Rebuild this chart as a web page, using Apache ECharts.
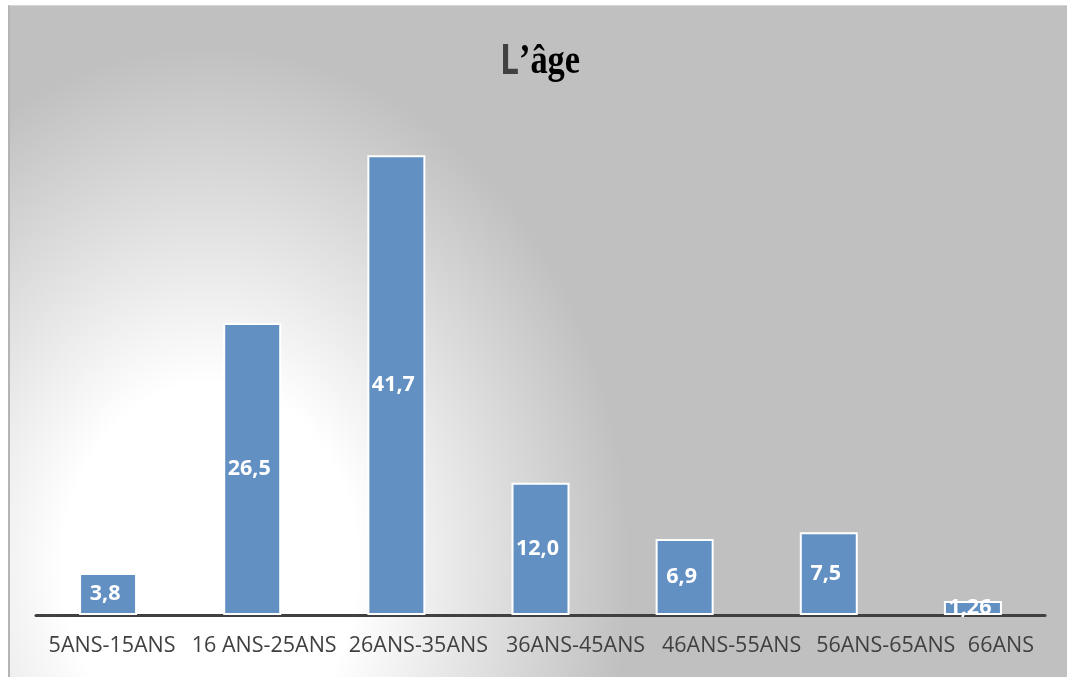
<!DOCTYPE html>
<html>
<head>
<meta charset="utf-8">
<title>L’âge</title>
<script src="https://cdn.jsdelivr.net/npm/echarts@6/dist/echarts.min.js"></script>
<style>
  html, body { margin: 0; padding: 0; background: #ffffff; }
  #chart {
    position: absolute;
    left: 8px; top: 5px;
    width: 1059px; height: 672px;
    box-sizing: border-box;
    border-left: 2px solid #b4b4b4;
    border-top: 1px solid #d6d6d6;
    background: radial-gradient(ellipse 420px 520px at 200px 560px,
      #ffffff 0%, #ffffff 35%, #c0c0c0 100%);
  }
</style>
</head>
<body>
<div id="chart"></div>
<script>
// Age groups and their share (%)
const categories = ['5ANS-15ANS', '16 ANS-25ANS', '26ANS-35ANS', '36ANS-45ANS', '46ANS-55ANS', '56ANS-65ANS', '66ANS'];
const values = [3.8, 26.5, 41.7, 12.0, 6.9, 7.5, 1.26];
const decimals = [1, 1, 1, 1, 1, 1, 2];

// Horizontal nudge (px) of each category label, so the long labels sit side by side
const labelShift = [4, 12, 22, 35, 47, 57, 28];

const axisData = categories.map((name, i) => ({
  value: name,
  textStyle: { padding: [0, 0, 0, labelShift[i] * 2] }
}));

const chart = echarts.init(document.getElementById('chart'), null, { renderer: 'canvas' });

chart.setOption({
  backgroundColor: 'transparent',
  animation: false,
  graphic: [{
    type: 'text',
    x: 530,
    y: 56,
    scaleX: 0.8,
    style: {
      text: '{a|L}{b|’âge}',
      align: 'center',
      verticalAlign: 'middle',
      rich: {
        a: { fontFamily: 'Open Sans', fontWeight: 'bold', fontSize: 42, fill: '#404040' },
        b: { fontFamily: 'Liberation Serif', fontWeight: 'bold', fontSize: 43, fill: '#000000' }
      }
    }
  }],
  grid: { left: 26, right: 22, top: 113, bottom: 62, containLabel: false },
  xAxis: {
    type: 'category',
    data: axisData,
    axisLine: { show: true, lineStyle: { color: '#404040', width: 3 } },
    axisTick: { show: false },
    axisLabel: {
      color: '#404040',
      fontFamily: 'Open Sans',
      fontSize: 21.5,
      margin: 20,
      interval: 0
    }
  },
  yAxis: {
    type: 'value',
    min: 0,
    max: 45,
    show: false,
    splitLine: { show: false }
  },
  series: [{
    type: 'bar',
    data: values,
    barWidth: 58,
    itemStyle: { color: '#6290c3', borderColor: '#ffffff', borderWidth: 2 },
    label: {
      show: true,
      position: 'inside',
      offset: [-3, 0],
      color: '#ffffff',
      fontFamily: 'Open Sans',
      fontWeight: 'bold',
      fontSize: 21.5,
      formatter: p => p.value.toFixed(decimals[p.dataIndex]).replace('.', ',')
    }
  }]
});
</script>
</body>
</html>
